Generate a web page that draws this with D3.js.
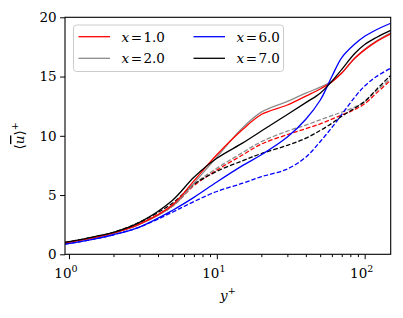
<!DOCTYPE html>
<html>
<head>
<meta charset="utf-8">
<script src="https://cdn.jsdelivr.net/npm/d3@7"></script>
<style>
  body { margin: 0; background: #fff; }
  svg { display: block; }
  svg text { font-family: "DejaVu Serif", serif; }
</style>
</head>
<body>
<svg id="chart"></svg>
<script>
// y+ positions the profiles are sampled at
const yPlus = [0.94, 1.5, 2, 3, 5, 7, 10, 15, 20, 30, 40, 50, 60, 70, 85, 100, 120, 150]

// mean velocity profiles, solid
const x1Solid = [0.95, 1.42, 1.8, 2.55, 4.15, 6.2, 8.4, 10.55, 11.8, 12.6, 13.35, 13.95, 14.55, 15.3, 16.5, 17.25, 17.95, 18.6]
const x2Solid = [0.95, 1.4, 1.78, 2.52, 4.05, 6.0, 8.2, 10.7, 12.0, 12.9, 13.6, 14.1, 14.6, 15.3, 16.5, 17.3, 18.0, 18.7]
const x6Solid = [0.85, 1.3, 1.65, 2.3, 3.7, 4.8, 6.1, 7.5, 8.4, 9.9, 11.4, 13.0, 15.0, 16.6, 17.7, 18.4, 18.95, 19.5]
const x7Solid = [1.0, 1.5, 1.85, 2.7, 4.55, 6.5, 8.1, 9.4, 10.4, 11.8, 12.8, 13.6, 14.6, 15.6, 16.9, 17.7, 18.3, 18.9]

// dashed profiles
const x1Dashed = [0.95, 1.42, 1.8, 2.6, 4.05, 5.8, 7.1, 8.4, 9.3, 10.1, 10.6, 11.0, 11.4, 11.75, 12.2, 12.7, 13.6, 14.7]
const x2Dashed = [0.95, 1.42, 1.8, 2.6, 4.05, 5.9, 7.26, 8.6, 9.5, 10.4, 10.9, 11.35, 11.7, 12.0, 12.4, 12.9, 13.8, 14.85]
const x6Dashed = [0.85, 1.3, 1.65, 2.3, 3.55, 4.45, 5.3, 6.0, 6.55, 7.2, 8.2, 9.5, 10.7, 11.8, 13.2, 14.2, 15.0, 15.7]
const x7Dashed = [1.0, 1.48, 1.85, 2.7, 4.3, 5.9, 7.0, 7.9, 8.5, 9.2, 9.8, 10.45, 11.05, 11.65, 12.3, 12.9, 13.9, 15.1]

const legendLabels = ['1.0', '2.0', '6.0', '7.0']
const lineColors = ['#ff0000', '#8c8c8c', '#0000ff', '#000000']
const yTicks = [0, 5, 10, 15, 20]
const xMajorTicks = [1, 10, 100]
const xMinorTicks = [2, 3, 4, 5, 6, 7, 8, 9, 20, 30, 40, 50, 60, 70, 80, 90]

const width = 403
const height = 318
const margin = { left: 65, top: 17.3, right: 12.3, bottom: 63.7 }

const svg = d3.select('#chart')
    .attr('width', width)
    .attr('height', height)
    .attr('font-family', 'DejaVu Serif')

const x = d3.scaleLog()
    .domain([0.94, 150])
    .range([margin.left, width - margin.right])

const y = d3.scaleLinear()
    .domain([0, 20])
    .range([height - margin.bottom, margin.top])

const series = [
    { values: x1Dashed, color: lineColors[0], dashed: true },
    { values: x2Dashed, color: lineColors[1], dashed: true },
    { values: x6Dashed, color: lineColors[2], dashed: true },
    { values: x7Dashed, color: lineColors[3], dashed: true },
    { values: x2Solid, color: lineColors[1], dashed: false },
    { values: x1Solid, color: lineColors[0], dashed: false },
    { values: x6Solid, color: lineColors[2], dashed: false },
    { values: x7Solid, color: lineColors[3], dashed: false }
]

const line = d3.line()
    .x((d, i) => x(yPlus[i]))
    .y(d => y(d))
    .curve(d3.curveCatmullRom.alpha(0.5))

svg.append('defs').append('clipPath')
    .attr('id', 'plot-clip')
    .append('rect')
    .attr('x', margin.left)
    .attr('y', margin.top)
    .attr('width', width - margin.left - margin.right)
    .attr('height', height - margin.top - margin.bottom)

svg.append('g')
    .attr('clip-path', 'url(#plot-clip)')
    .selectAll('path')
    .data(series)
    .enter().append('path')
    .attr('d', d => line(d.values))
    .attr('fill', 'none')
    .attr('stroke', d => d.color)
    .attr('stroke-width', 1.3)
    .attr('stroke-dasharray', d => d.dashed ? '4.6,2' : null)

// axes
const yAxis = d3.axisLeft(y)
    .tickValues(yTicks)
    .tickSize(4.9)
    .tickPadding(3.5)
    .tickFormat(d3.format('d'))

svg.append('g')
    .attr('transform', `translate(${margin.left},0)`)
    .call(yAxis)
    .call(g => g.select('.domain').remove())
    .call(g => g.attr('font-family', null).attr('font-size', 13.5))
    .call(g => g.selectAll('text').attr('fill', '#000'))

const xAxisG = svg.append('g')
    .attr('transform', `translate(0,${height - margin.bottom})`)

xAxisG.call(d3.axisBottom(x).tickValues(xMajorTicks).tickSize(4.9).tickFormat(''))
    .call(g => g.select('.domain').remove())
    .attr('font-family', null)

xAxisG.append('g')
    .call(d3.axisBottom(x).tickValues(xMinorTicks).tickSize(2.8).tickFormat(''))
    .call(g => g.select('.domain').remove())

const xLabels = xAxisG.selectAll('.xlabel')
    .data(xMajorTicks)
    .enter().append('text')
    .attr('class', 'xlabel')
    .attr('x', d => x(d) - 3)
    .attr('y', 23.5)
    .attr('text-anchor', 'middle')
    .attr('fill', '#000')
    .attr('font-size', 13.5)

xLabels.append('tspan').text('10')
xLabels.append('tspan')
    .attr('dy', -6)
    .attr('font-size', 9.5)
    .text(d => Math.round(Math.log10(d)))

// frame
svg.append('rect')
    .attr('x', margin.left)
    .attr('y', margin.top)
    .attr('width', width - margin.left - margin.right)
    .attr('height', height - margin.top - margin.bottom)
    .attr('fill', 'none')
    .attr('stroke', '#000')
    .attr('stroke-width', 1.1)

// axis titles
const xTitle = svg.append('text')
    .attr('x', (margin.left + width - margin.right) / 2)
    .attr('y', 300)
    .attr('text-anchor', 'middle')
    .attr('font-size', 13.5)
xTitle.append('tspan').attr('font-style', 'italic').text('y')
xTitle.append('tspan').attr('dy', -6).attr('font-size', 9.5).text('+')

const yTitle = svg.append('text')
    .attr('transform', `translate(24,${(margin.top + height - margin.bottom) / 2}) rotate(-90)`)
    .attr('text-anchor', 'middle')
    .attr('font-size', 13.5)
yTitle.append('tspan').text('\u27E8')
yTitle.append('tspan').attr('font-style', 'italic').attr('text-decoration', 'overline').text('u')
yTitle.append('tspan').text('\u27E9')
yTitle.append('tspan').attr('dy', -6).attr('font-size', 9.5).text('+')

// legend
const legend = svg.append('g')
legend.append('rect')
    .attr('x', 73.5)
    .attr('y', 25)
    .attr('width', 210)
    .attr('height', 46.5)
    .attr('rx', 3)
    .attr('fill', 'rgba(255,255,255,0.8)')
    .attr('stroke', '#cccccc')
    .attr('stroke-width', 1)

const legendItems = legend.selectAll('.legend-item')
    .data(legendLabels)
    .enter().append('g')
    .attr('class', 'legend-item')
    .attr('transform', (d, i) => `translate(${i < 2 ? 78.5 : 193.5},${i % 2 === 0 ? 36.7 : 58.3})`)

legendItems.append('line')
    .attr('x1', 0)
    .attr('x2', 31.5)
    .attr('stroke', (d, i) => lineColors[i])
    .attr('stroke-width', 1.3)

const legendText = legendItems.append('text')
    .attr('x', 43)
    .attr('y', 4.8)
    .attr('font-size', 13.5)
legendText.append('tspan').attr('font-style', 'italic').text('x')
legendText.append('tspan').attr('dx', 1.5).text('=')
legendText.append('tspan').attr('dx', 1.5).text(d => d)
</script>
</body>
</html>
